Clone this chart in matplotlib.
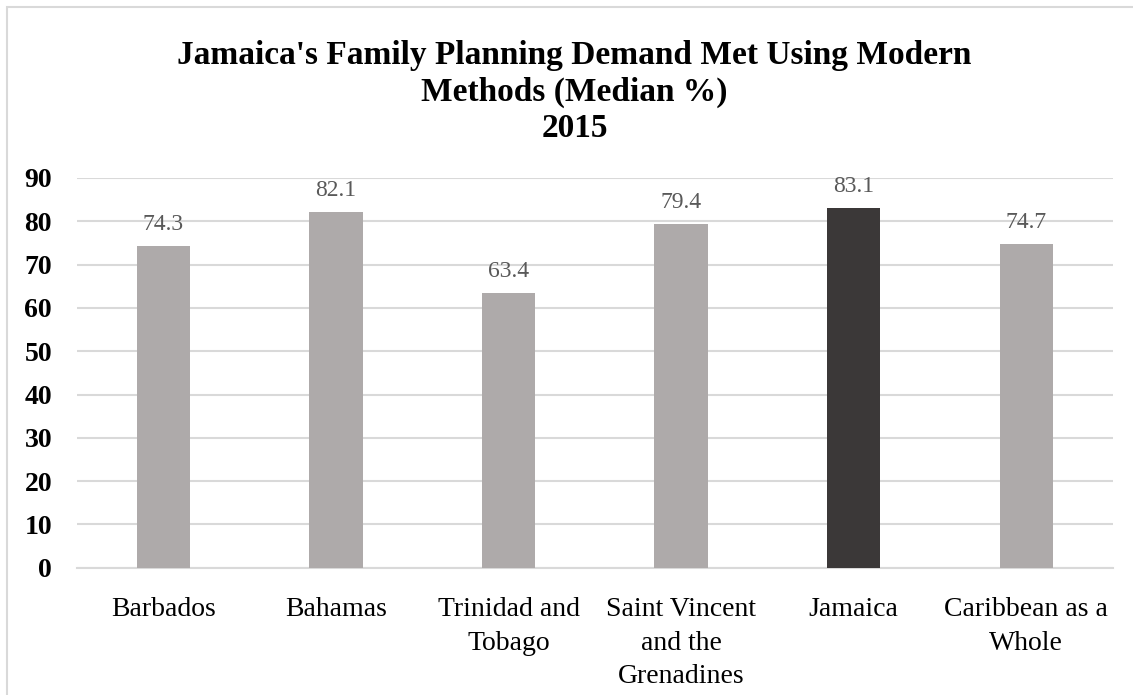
import matplotlib
matplotlib.use("Agg")
from matplotlib import pyplot as plt
from matplotlib.patches import Rectangle

# 数据
categories = ["Barbados", "Bahamas", "Trinidad and\nTobago",
              "Saint Vincent\nand the\nGrenadines", "Jamaica",
              "Caribbean as a\nWhole"]
values = [74.3, 82.1, 63.4, 79.4, 83.1, 74.7]
bar_colors = ["#aeaaaa", "#aeaaaa", "#aeaaaa", "#aeaaaa", "#3b3838", "#aeaaaa"]
title = "Jamaica's Family Planning Demand Met Using Modern\nMethods (Median %)\n2015"

plt.rcParams['font.family'] = ['Liberation Serif', 'DejaVu Serif']

fig = plt.figure(figsize=(11.33, 6.95), dpi=100)
ax = fig.add_axes([0.068, 0.183, 0.914, 0.561])

x = range(len(categories))
bars = ax.bar(x, values, width=0.31, color=bar_colors, zorder=3)

for xi, v in zip(x, values):
    ax.annotate(f"{v}", (xi, v), xytext=(0, 8), textcoords="offset points",
                ha="center", va="bottom", fontsize=17, color="#595959")

ax.set_ylim(0, 90)
ax.set_xlim(-0.5, len(categories) - 0.5)
ax.set_yticks(range(0, 91, 10))
ax.set_xticks(list(x))
ax.set_xticklabels(categories, fontsize=20, linespacing=1.46)
for lab in ax.get_yticklabels():
    lab.set_fontweight("bold")
    lab.set_fontsize(20)
ax.tick_params(axis="both", length=0)
ax.tick_params(axis="x", pad=21)
ax.tick_params(axis="y", pad=18)
ax.grid(axis="y", color="#d9d9d9", linewidth=1.5, zorder=0)
for s in ["top", "right", "left"]:
    ax.spines[s].set_visible(False)
ax.spines["bottom"].set_color("#d9d9d9")
ax.spines["bottom"].set_linewidth(1.5)

fig.text(0.507, 0.943, title, ha="center", va="top", fontsize=24,
         fontweight="bold", linespacing=1.24)

# 外框
fig.patches.append(Rectangle((0.006, -0.01), 1.1, 1.0, transform=fig.transFigure,
                             fill=False, edgecolor="#d9d9d9", linewidth=1.5))

fig.savefig("out.png", dpi=100)
